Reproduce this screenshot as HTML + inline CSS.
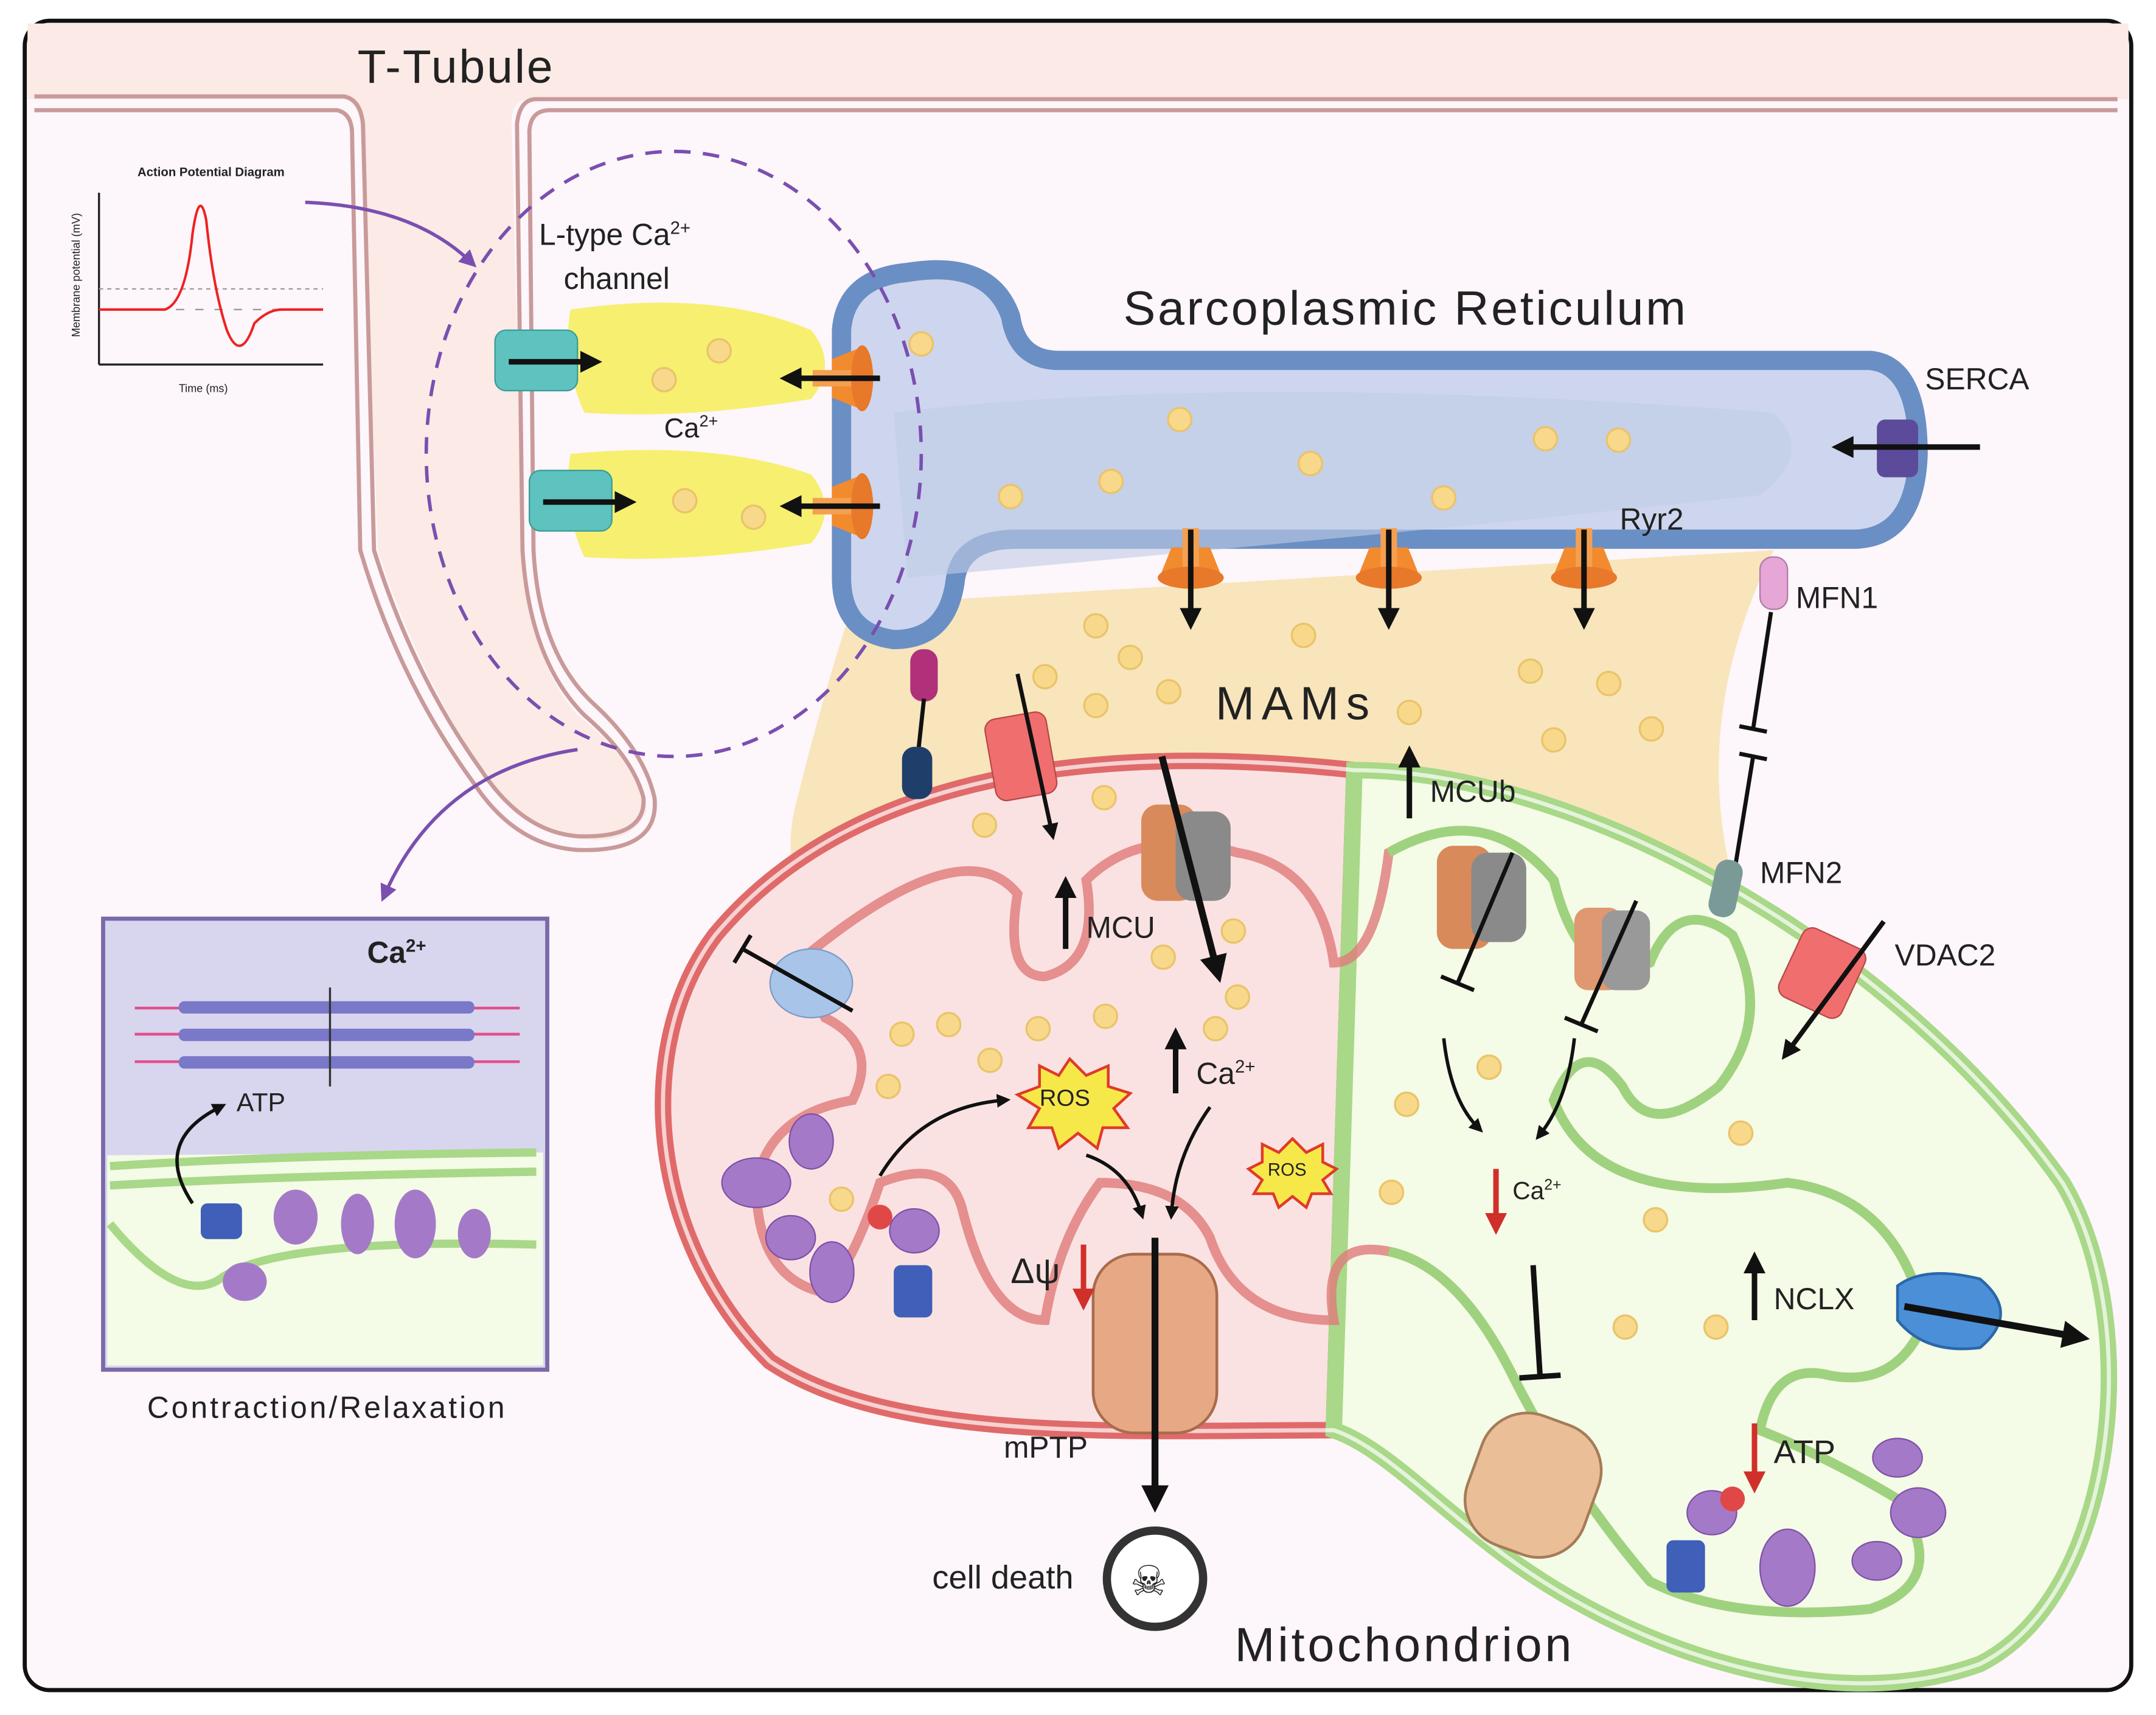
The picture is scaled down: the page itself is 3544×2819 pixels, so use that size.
<!DOCTYPE html>
<html><head><meta charset="utf-8"><style>
html,body{margin:0;padding:0;background:#fff}
svg{display:block}
text{font-family:"Liberation Sans",sans-serif;fill:#222}
</style></head><body>
<svg width="3544" height="2819" viewBox="0 0 1568 1247" xmlns="http://www.w3.org/2000/svg">
<defs>
<marker id="ah" viewBox="0 0 10 10" refX="5" refY="5" markerWidth="4" markerHeight="4" orient="auto"><path d="M0,0L10,5L0,10z" fill="#111"/></marker>
<marker id="ap" viewBox="0 0 10 10" refX="5" refY="5" markerWidth="5" markerHeight="5" orient="auto"><path d="M0,0L10,5L0,10z" fill="#7a4fb0"/></marker>
<marker id="ar" viewBox="0 0 10 10" refX="5" refY="5" markerWidth="4" markerHeight="4" orient="auto"><path d="M0,0L10,5L0,10z" fill="#d0302a"/></marker>
<g id="dot"><circle r="8.5" fill="#f8d98c" stroke="#e9c46a" stroke-width="1.5"/></g>
<g id="ryr"><path d="M-14,-10 L14,-10 L22,10 L-22,10z" fill="#f28a2e"/><rect x="-6" y="-24" width="12" height="44" fill="#f4a050"/><ellipse cx="0" cy="12" rx="24" ry="8" fill="#e8782a"/></g>
</defs>
<rect x="18" y="15" width="1532" height="1214" rx="18" fill="#fdf6fa" stroke="#111" stroke-width="3"/>
<path d="M20,17 H1548 V72 H385 Q372,72 372,90 L380,400 Q385,480 420,520 Q470,560 470,590 Q460,615 420,610 Q375,600 350,560 Q300,480 275,400 L262,90 Q260,72 248,72 H20z" fill="#fbeae6"/>
<path d="M25,70 H250 Q262,72 264,90 L272,400 Q300,490 350,560 Q380,605 420,608 Q470,610 468,580 Q460,550 425,520 Q385,480 380,400 L376,90 Q378,72 390,72 H1540" fill="none" stroke="#c99a9a" stroke-width="3"/>
<path d="M25,80 H245 Q255,82 256,95 L262,400 Q290,495 345,570 Q375,615 420,618 Q480,620 476,580 Q468,545 432,512 Q392,475 388,400 L385,95 Q386,80 400,80 H1540" fill="none" stroke="#c99a9a" stroke-width="3"/>
<text x="260" y="60" font-size="34" textLength="142">T-Tubule</text>
<text x="100" y="128" font-size="9" font-weight="bold">Action Potential Diagram</text>
<line x1="72" y1="140" x2="72" y2="265" stroke="#222" stroke-width="1.5"/>
<line x1="72" y1="265" x2="235" y2="265" stroke="#222" stroke-width="1.5"/>
<line x1="72" y1="210" x2="235" y2="210" stroke="#999" stroke-dasharray="3,3"/>
<line x1="72" y1="225" x2="235" y2="225" stroke="#999" stroke-dasharray="6,8"/>
<path d="M72,225 H120 Q135,220 140,170 Q145,135 150,160 Q155,210 165,240 Q175,265 185,235 Q195,225 205,225 H235" fill="none" stroke="#e22" stroke-width="1.8"/>
<text x="58" y="245" font-size="8" transform="rotate(-90 58 245)">Membrane potential (mV)</text>
<text x="130" y="285" font-size="8">Time (ms)</text>
<path d="M222,147 Q300,150 342,190" fill="none" stroke="#7a4fb0" stroke-width="2.5" marker-end="url(#ap)"/>
<path d="M420,545 Q320,560 280,650" fill="none" stroke="#7a4fb0" stroke-width="2.5" marker-end="url(#ap)"/>
<path d="M620,440 L1290,400 Q1230,520 1260,640 Q1280,720 1330,740 L1100,720 L620,700 Q560,650 580,580 Q600,500 620,440z" fill="#f7e2b0" opacity="0.85"/>
<path d="M660,198 Q720,188 735,230 Q740,262 770,262 H1360 Q1395,265 1395,330 Q1393,390 1350,392 H740 Q700,392 695,420 Q690,465 650,465 Q612,460 612,420 V240 Q615,202 660,198z" fill="#cdd6ee" stroke="#6a8fc4" stroke-width="14"/>
<path d="M650,300 Q900,270 1290,300 Q1320,330 1280,360 Q1000,390 660,420z" fill="#bfcbe6" opacity="0.6"/>
<text x="817" y="236" font-size="35" textLength="409">Sarcoplasmic Reticulum</text>
<text x="1400" y="283" font-size="22">SERCA</text>
<text x="1178" y="385" font-size="22">Ryr2</text>
<text x="884" y="523" font-size="34" textLength="112">MAMs</text>
<path d="M415,225 Q520,210 590,240 Q610,265 590,290 Q500,305 425,300 Q408,262 415,225z" fill="#f7ef70"/>
<path d="M415,330 Q520,320 590,345 Q610,370 590,395 Q500,410 425,405 Q408,368 415,330z" fill="#f7ef70"/>
<ellipse cx="490" cy="330" rx="180" ry="220" fill="none" stroke="#7a4fb0" stroke-width="2.5" stroke-dasharray="12,9"/>
<text x="392" y="178" font-size="22">L-type Ca<tspan font-size="13" dy="-8">2+</tspan></text>
<text x="410" y="210" font-size="22">channel</text>
<text x="483" y="318" font-size="20">Ca<tspan font-size="12" dy="-8">2+</tspan></text>
<rect x="360" y="240" width="60" height="44" rx="8" fill="#5ec2bf" stroke="#3a9c99"/>
<rect x="385" y="342" width="60" height="44" rx="8" fill="#5ec2bf" stroke="#3a9c99"/>
<line x1="370" y1="263" x2="430" y2="263" stroke="#111" stroke-width="4" marker-end="url(#ah)"/>
<line x1="395" y1="365" x2="455" y2="365" stroke="#111" stroke-width="4" marker-end="url(#ah)"/>
<g transform="translate(615,275) rotate(-90)"><use href="#ryr"/></g>
<g transform="translate(615,368) rotate(-90)"><use href="#ryr"/></g>
<line x1="640" y1="275" x2="575" y2="275" stroke="#111" stroke-width="4" marker-end="url(#ah)"/>
<line x1="640" y1="368" x2="575" y2="368" stroke="#111" stroke-width="4" marker-end="url(#ah)"/>
<g transform="translate(866,408)"><use href="#ryr"/></g>
<g transform="translate(1010,408)"><use href="#ryr"/></g>
<g transform="translate(1152,408)"><use href="#ryr"/></g>
<line x1="866" y1="385" x2="866" y2="450" stroke="#111" stroke-width="4" marker-end="url(#ah)"/>
<line x1="1010" y1="385" x2="1010" y2="450" stroke="#111" stroke-width="4" marker-end="url(#ah)"/>
<line x1="1152" y1="385" x2="1152" y2="450" stroke="#111" stroke-width="4" marker-end="url(#ah)"/>
<rect x="1365" y="305" width="30" height="42" rx="6" fill="#5b4b9a"/>
<line x1="1440" y1="325" x2="1340" y2="325" stroke="#111" stroke-width="4" marker-end="url(#ah)"/>
<path d="M985,560 C800,540 620,560 520,680 C460,760 470,900 560,990 C650,1050 820,1040 970,1040z" fill="#fbe2e2" stroke="#e06a6a" stroke-width="12"/>
<path d="M985,560 C1150,560 1380,690 1500,860 C1560,960 1540,1160 1440,1210 C1330,1250 1180,1200 1080,1120 C1030,1080 1000,1050 970,1040z" fill="#f4fbe6" stroke="#a8d888" stroke-width="12"/>
<path d="M985,560 C800,540 620,560 520,680 C460,760 470,900 560,990 C650,1050 820,1040 970,1040 C1000,1050 1030,1080 1080,1120 C1180,1200 1330,1250 1440,1210 C1540,1160 1560,960 1500,860 C1380,690 1150,560 985,560z" fill="none" stroke="#fff" stroke-width="3" opacity="0.7"/>
<path d="M580,700 Q700,600 740,650 Q730,710 760,710 Q800,700 790,640 Q830,600 900,620 Q960,630 970,700 Q1000,700 1010,620 Q1080,580 1130,640 Q1150,720 1200,700 Q1220,650 1260,680 Q1290,740 1250,790 Q1200,830 1180,790 Q1150,750 1130,800 Q1160,880 1300,860 Q1380,870 1400,960 Q1380,1010 1330,1000 Q1290,990 1280,1040 Q1330,1060 1380,1090 Q1420,1150 1360,1170 Q1260,1180 1200,1150 Q1140,1080 1100,1000 Q1060,920 1010,910 Q960,900 970,960 Q900,960 880,900 Q860,860 800,860 Q770,900 760,960 Q720,960 700,880 Q690,840 640,860 Q620,920 600,940 Q550,930 550,860 Q560,810 620,800 Q640,760 600,740z" fill="none" stroke="#e07a7a" stroke-width="7" opacity="0.8"/>
<path d="M1010,620 Q1080,580 1130,640 Q1150,720 1200,700 Q1220,650 1260,680 Q1290,740 1250,790 Q1200,830 1180,790 Q1150,750 1130,800 Q1160,880 1300,860 Q1380,870 1400,960 Q1380,1010 1330,1000 Q1290,990 1280,1040 Q1330,1060 1380,1090 Q1420,1150 1360,1170 Q1260,1180 1200,1150 Q1140,1080 1100,1000 Q1060,920 1010,910" fill="none" stroke="#9fd27e" stroke-width="7"/>
<text x="898" y="1208" font-size="35" textLength="245">Mitochondrion</text>
<rect x="795" y="912" width="90" height="130" rx="30" fill="#e6a885" stroke="#a86c4c" stroke-width="2"/>
<line x1="840" y1="900" x2="840" y2="1090" stroke="#111" stroke-width="5" marker-end="url(#ah)"/>
<text x="730" y="1060" font-size="22">mPTP</text>
<text x="735" y="933" font-size="26">Δψ</text>
<line x1="788" y1="905" x2="788" y2="945" stroke="#d0302a" stroke-width="4" marker-end="url(#ar)"/>
<circle cx="840" cy="1148" r="35" fill="#fff" stroke="#333" stroke-width="6"/>
<text x="822" y="1160" font-size="30">☠</text>
<text x="678" y="1155" font-size="24">cell death</text>
<rect x="720" y="520" width="45" height="60" rx="8" fill="#f06e6e" stroke="#b84848" transform="rotate(-10 742 550)"/>
<line x1="740" y1="490" x2="765" y2="605" stroke="#111" stroke-width="3" marker-end="url(#ah)"/>
<rect x="830" y="585" width="40" height="70" rx="12" fill="#d98a5a"/>
<rect x="855" y="590" width="40" height="65" rx="12" fill="#8a8a8a"/>
<line x1="845" y1="550" x2="885" y2="705" stroke="#111" stroke-width="5" marker-end="url(#ah)"/>
<line x1="775" y1="690" x2="775" y2="645" stroke="#111" stroke-width="4" marker-end="url(#ah)"/>
<text x="790" y="682" font-size="22">MCU</text>
<line x1="855" y1="795" x2="855" y2="755" stroke="#111" stroke-width="4" marker-end="url(#ah)"/>
<text x="870" y="788" font-size="22">Ca<tspan font-size="13" dy="-8">2+</tspan></text>
<line x1="1025" y1="595" x2="1025" y2="550" stroke="#111" stroke-width="4" marker-end="url(#ah)"/>
<text x="1040" y="583" font-size="22">MCUb</text>
<rect x="1045" y="615" width="40" height="75" rx="12" fill="#d98a5a"/>
<rect x="1070" y="620" width="40" height="65" rx="12" fill="#8a8a8a"/>
<rect x="1145" y="660" width="35" height="60" rx="10" fill="#e09870"/>
<rect x="1165" y="662" width="35" height="58" rx="10" fill="#999"/>
<path d="M1100,620 L1060,715 M1048,710 L1072,720 M1190,655 L1150,745 M1138,740 L1162,750" stroke="#111" stroke-width="3"/>
<ellipse cx="590" cy="715" rx="30" ry="25" fill="#a8c4e8" stroke="#7a9cc8"/>
<path d="M620,735 L540,690 M534,700 L546,680" stroke="#111" stroke-width="3"/>
<polygon points="778,770 790,782 806,775 806,790 822,795 810,806 820,820 802,820 798,835 784,824 770,835 765,820 748,820 756,806 740,796 756,790 756,775 770,782" fill="#f7e84a" stroke="#e03a2a" stroke-width="2"/>
<text x="756" y="804" font-size="17">ROS</text>
<polygon points="940,828 950,838 962,832 962,845 972,850 962,858 968,868 954,868 950,878 940,870 930,878 926,868 912,868 918,858 908,850 918,845 918,832 930,838" fill="#f7e84a" stroke="#e03a2a" stroke-width="2"/>
<text x="922" y="855" font-size="13">ROS</text>
<path d="M640,855 Q670,805 730,800" fill="none" stroke="#111" stroke-width="2.5" marker-end="url(#ah)"/>
<path d="M790,840 Q820,850 830,882" fill="none" stroke="#111" stroke-width="2.5" marker-end="url(#ah)"/>
<path d="M880,805 Q855,840 852,882" fill="none" stroke="#111" stroke-width="2.5" marker-end="url(#ah)"/>
<path d="M1050,755 Q1055,800 1075,820" fill="none" stroke="#111" stroke-width="2.5" marker-end="url(#ah)"/>
<path d="M1145,755 Q1140,800 1120,825" fill="none" stroke="#111" stroke-width="2.5" marker-end="url(#ah)"/>
<line x1="1088" y1="850" x2="1088" y2="890" stroke="#d0302a" stroke-width="4" marker-end="url(#ar)"/>
<text x="1100" y="872" font-size="18">Ca<tspan font-size="11" dy="-7">2+</tspan></text>
<path d="M1115,920 L1120,1000 M1105,1002 L1135,1000" stroke="#111" stroke-width="4"/>
<rect x="1070" y="1030" width="90" height="100" rx="35" fill="#eabf98" stroke="#a57c58" stroke-width="2" transform="rotate(20 1115 1080)"/>
<line x1="1276" y1="960" x2="1276" y2="918" stroke="#111" stroke-width="4" marker-end="url(#ah)"/>
<text x="1290" y="952" font-size="22">NCLX</text>
<path d="M1380,935 Q1400,920 1440,930 Q1470,955 1440,980 Q1400,985 1380,960z" fill="#4a8fd8" stroke="#2b67a8" stroke-width="2"/>
<line x1="1385" y1="950" x2="1510" y2="972" stroke="#111" stroke-width="5" marker-end="url(#ah)"/>
<line x1="1276" y1="1035" x2="1276" y2="1078" stroke="#d0302a" stroke-width="4" marker-end="url(#ar)"/>
<text x="1290" y="1064" font-size="24">ATP</text>
<rect x="1280" y="405" width="20" height="38" rx="9" fill="#e6a6d6" stroke="#b07aa8"/>
<text x="1306" y="442" font-size="22">MFN1</text>
<path d="M1288,445 L1275,530 M1265,528 L1285,532 M1265,548 L1285,552 M1275,550 L1262,630" stroke="#111" stroke-width="3"/>
<rect x="1245" y="625" width="20" height="42" rx="9" fill="#7a9a98" transform="rotate(12 1255 646)"/>
<text x="1280" y="642" font-size="22">MFN2</text>
<rect x="1300" y="680" width="50" height="55" rx="8" fill="#f06e6e" stroke="#b84848" transform="rotate(25 1325 708)"/>
<line x1="1370" y1="670" x2="1300" y2="765" stroke="#111" stroke-width="3.5" marker-end="url(#ah)"/>
<text x="1378" y="702" font-size="22">VDAC2</text>
<rect x="662" y="472" width="20" height="38" rx="9" fill="#b0307a"/>
<line x1="672" y1="508" x2="668" y2="545" stroke="#111" stroke-width="3"/>
<rect x="656" y="543" width="22" height="38" rx="9" fill="#1f3f6a"/>
<g fill="#a47ac8" stroke="#8050a8">
<ellipse cx="550" cy="860" rx="25" ry="18"/><ellipse cx="590" cy="830" rx="16" ry="20"/><ellipse cx="575" cy="900" rx="18" ry="16"/><ellipse cx="605" cy="925" rx="16" ry="22"/>
<ellipse cx="1380" cy="1060" rx="18" ry="14"/><ellipse cx="1395" cy="1100" rx="20" ry="18"/><ellipse cx="1365" cy="1135" rx="18" ry="14"/><ellipse cx="1300" cy="1140" rx="20" ry="28"/>
<ellipse cx="665" cy="895" rx="18" ry="16"/><ellipse cx="1245" cy="1100" rx="18" ry="16"/>
</g>
<rect x="650" y="920" width="28" height="38" rx="5" fill="#3f5fb8"/>
<rect x="1212" y="1120" width="28" height="38" rx="5" fill="#3f5fb8"/>
<circle cx="640" cy="885" r="9" fill="#e04848"/><circle cx="1260" cy="1090" r="9" fill="#e04848"/>
<g>
<use href="#dot" x="670" y="250"/><use href="#dot" x="523" y="255"/><use href="#dot" x="483" y="276"/><use href="#dot" x="498" y="364"/><use href="#dot" x="548" y="376"/>
<use href="#dot" x="858" y="305"/><use href="#dot" x="808" y="350"/><use href="#dot" x="735" y="361"/><use href="#dot" x="953" y="337"/><use href="#dot" x="1050" y="362"/><use href="#dot" x="1124" y="319"/><use href="#dot" x="1177" y="320"/>
<use href="#dot" x="797" y="455"/><use href="#dot" x="822" y="478"/><use href="#dot" x="760" y="492"/><use href="#dot" x="797" y="513"/><use href="#dot" x="850" y="503"/><use href="#dot" x="948" y="462"/><use href="#dot" x="1113" y="488"/><use href="#dot" x="1170" y="497"/><use href="#dot" x="1025" y="518"/><use href="#dot" x="1130" y="538"/><use href="#dot" x="1201" y="530"/>
<use href="#dot" x="716" y="600"/><use href="#dot" x="803" y="580"/><use href="#dot" x="846" y="696"/><use href="#dot" x="900" y="725"/><use href="#dot" x="884" y="748"/><use href="#dot" x="804" y="739"/><use href="#dot" x="755" y="748"/><use href="#dot" x="720" y="771"/><use href="#dot" x="690" y="745"/><use href="#dot" x="656" y="752"/><use href="#dot" x="646" y="790"/><use href="#dot" x="612" y="872"/><use href="#dot" x="897" y="677"/>
<use href="#dot" x="1083" y="776"/><use href="#dot" x="1023" y="803"/><use href="#dot" x="1012" y="867"/><use href="#dot" x="1204" y="887"/><use href="#dot" x="1266" y="824"/><use href="#dot" x="1182" y="965"/><use href="#dot" x="1248" y="965"/>
</g>
<rect x="75" y="668" width="323" height="328" fill="#d8d5ef" stroke="#7a6aa8" stroke-width="3"/>
<path d="M78,840 L395,838 V993 H78z" fill="#f4fbe6"/>
<path d="M80,848 Q200,840 390,838 M80,862 Q200,855 390,852" stroke="#a8d888" stroke-width="6" fill="none"/>
<path d="M80,890 Q130,950 160,930 Q200,900 390,905" stroke="#a8d888" stroke-width="6" fill="none"/>
<text x="267" y="700" font-size="22" font-weight="bold">Ca<tspan font-size="13" dy="-8">2+</tspan></text>
<g stroke="#e0508a" stroke-width="2"><line x1="98" y1="733" x2="378" y2="733"/><line x1="98" y1="752" x2="378" y2="752"/><line x1="98" y1="772" x2="378" y2="772"/></g>
<g fill="#7a78c8"><rect x="130" y="728" width="215" height="9" rx="4"/><rect x="130" y="748" width="215" height="9" rx="4"/><rect x="130" y="768" width="215" height="9" rx="4"/></g>
<line x1="240" y1="718" x2="240" y2="790" stroke="#333" stroke-width="1.5"/>
<text x="172" y="808" font-size="19">ATP</text>
<path d="M140,875 Q110,830 160,805" fill="none" stroke="#111" stroke-width="2.5" marker-end="url(#ah)"/>
<g fill="#a47ac8"><ellipse cx="215" cy="885" rx="16" ry="20"/><ellipse cx="260" cy="890" rx="12" ry="22"/><ellipse cx="302" cy="890" rx="15" ry="25"/><ellipse cx="345" cy="897" rx="12" ry="18"/><ellipse cx="178" cy="932" rx="16" ry="14"/></g>
<rect x="146" y="875" width="30" height="26" rx="5" fill="#3f5fb8"/>
<text x="107" y="1031" font-size="22" textLength="260">Contraction/Relaxation</text>
</svg>
</body></html>
